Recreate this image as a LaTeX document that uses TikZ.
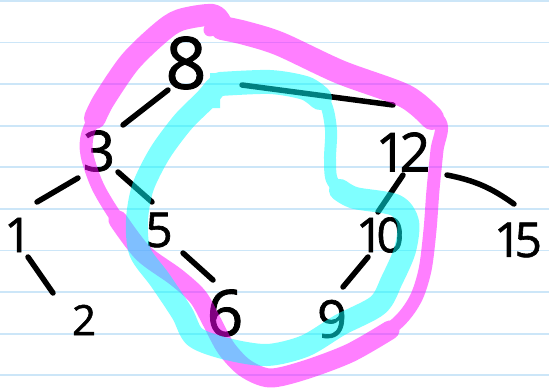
\documentclass[tikz,border=0pt]{standalone}
\usepackage{fontspec}
\setmainfont{Open Sans}
\newfontfamily\handfont{Open Sans}[FakeBold=1.3]
\definecolor{rule}{RGB}{204,230,248}
\definecolor{hlmag}{RGB}{255,0,255}
\definecolor{hlcyan}{RGB}{0,255,255}
\tikzset{
  digit/.style={font=\handfont\fontsize{#1}{#1}\selectfont, inner sep=0pt, text=black},
  pen/.style={line width=5.5pt, line cap=round, line join=round, black},
  marker/.style={line cap=round, line join=round},
}
\begin{document}
\begin{tikzpicture}[x=1pt,y=-1pt]
\useasboundingbox (0,0) rectangle (549,391);
\fill[white] (0,0) rectangle (549,391);
% ruled paper
\foreach \k in {0,...,9}{
  \draw[rule, line width=1.8pt] (0,{0.9+41.6*\k}) -- (549,{0.9+41.6*\k});
}
% numbers
\node[digit=72] (n8) at (186,63) {8};
\node[digit=56] (n3) at (99,151) {3};
\node[digit=48] (n1) at (18,235) {1};
\node[digit=42] (n2) at (84,320) {2};
\node[digit=48] (n5) at (159,230) {5};
\node[digit=64] (n6) at (225,313) {6};
\node[digit=54] (n12) at (403,152) {1\kern-7pt2};
\node[digit=48] (n10) at (380,235) {1\kern-7pt0};
\node[digit=52] (n9) at (332,319) {9};
\node[digit=48] (n15) at (518,240) {1\kern-7pt5};
% connectors
\draw[pen] ([shift={(-18,27)}]n8.center) -- ([shift={(24,-26)}]n3.center);
\draw[pen] ([shift={(-21,27)}]n3.center) -- ([shift={(19,-33)}]n1.center);
\draw[pen] ([shift={(19,21)}]n3.center) -- ([shift={(-7,-28)}]n5.center);
\draw[pen] ([shift={(10,22)}]n1.center) -- ([shift={(-31,-27)}]n2.center);
\draw[pen] ([shift={(24,23)}]n5.center) -- ([shift={(-12,-33)}]n6.center);
\draw[pen] ([shift={(56,22)}]n8.center) -- ([shift={(-10,-47)}]n12.center);
\draw[pen] ([shift={(0,23)}]n12.center) -- ([shift={(-2,-23)}]n10.center);
\draw[pen] ([shift={(-12,22)}]n10.center) -- ([shift={(11,-32)}]n9.center);
\draw[pen] ([shift={(44,23)}]n12.center) to[bend left=12] ([shift={(-4,-36)}]n15.center);
% magenta highlight
\begin{scope}[transparency group, opacity=0.5]
  \draw[marker, hlmag, line width=13pt] plot[smooth] coordinates {
    (210,30) (213,15) (180,20) (160,33) (130,62) (104,100) (88,133) (87,155)
    (98,187) (118,220) (143,253) (176,277) (198,297) (212,322) (226,348)
    (245,368) (270,378) (305,370) (350,353) (395,325) (415,300) (425,270)
    (430,230) (433,190) (437,150) (440,122) (405,96) (340,72) (280,44)
    (245,33) (225,28)};
  \draw[marker, hlmag, line width=22pt] plot[smooth] coordinates {
    (222,26) (213,15) (180,20) (160,33) (130,62) (104,100) (95,118)};
  \draw[marker, hlmag, line width=19pt] plot[smooth] coordinates {
    (118,220) (143,253) (176,277) (198,297) (212,322) (226,348)
    (245,368) (270,378) (305,370) (350,353) (390,330)};
  \draw[marker, hlmag, line width=24pt] plot[smooth] coordinates {
    (432,118) (405,96) (340,72) (280,44) (245,33) (222,28)};
\end{scope}
% cyan highlight
\begin{scope}[transparency group, opacity=0.5]
  \draw[marker, hlcyan, line width=12pt] plot[smooth] coordinates {
    (218,84) (270,82) (305,88) (325,103) (331,130) (330,160) (333,182)
    (355,198) (395,205) (408,222) (405,250) (392,280) (378,305) (340,325)
    (305,346) (267,355) (227,349) (195,337) (182,313) (160,280) (140,252)
    (137,220) (143,187) (160,153) (183,122) (205,100) (215,86)};
  \draw[marker, hlcyan, line width=24pt] plot[smooth] coordinates {
    (220,84) (270,82) (305,88) (320,98)};
  \draw[marker, hlcyan, line width=22pt] plot[smooth] coordinates {
    (340,190) (355,198) (395,205) (408,222) (405,250) (392,280) (378,305)
    (340,325) (305,346) (267,355) (227,349) (195,337) (182,313) (160,280)
    (140,252) (137,220) (143,187) (160,153) (183,122) (205,100) (215,88)};
  \draw[hlcyan, line width=10pt] (215,73) -- (215,108);
\end{scope}
\end{tikzpicture}
\end{document}
